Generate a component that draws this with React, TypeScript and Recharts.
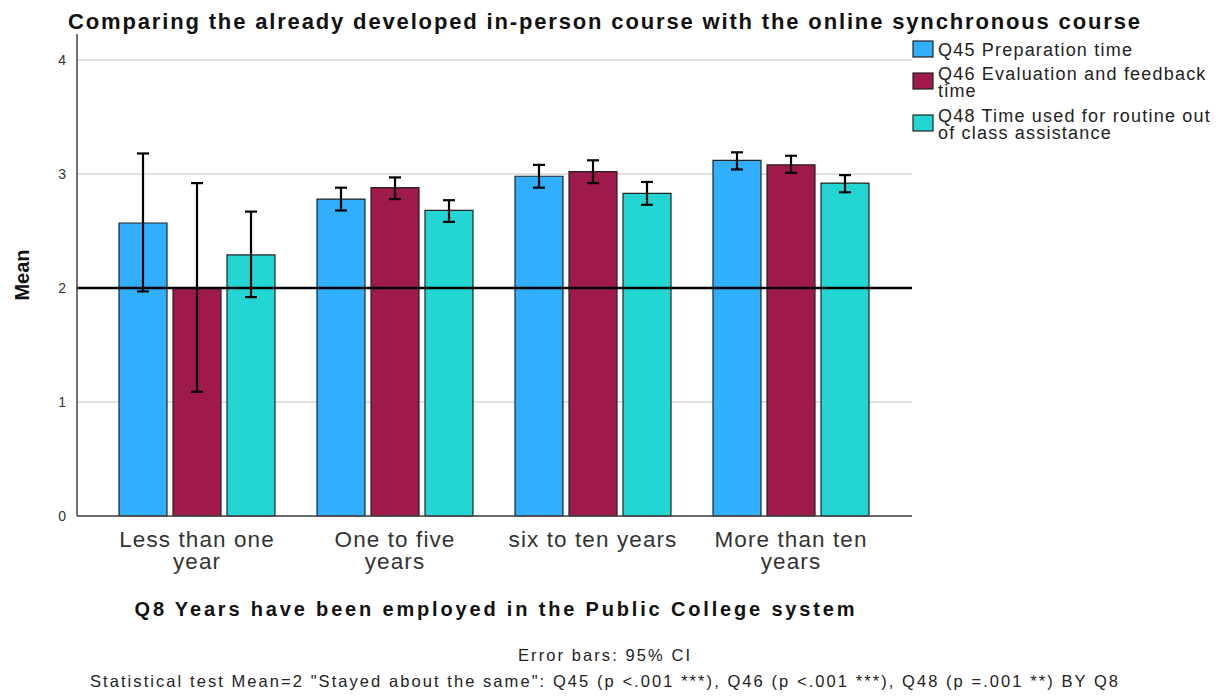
import React from "react";
import { BarChart, Bar, XAxis, YAxis, CartesianGrid, ReferenceLine, ErrorBar } from "recharts";

const categories = ["Less than one year", "One to five years", "six to ten years", "More than ten years"];
const xTickLines = [["Less than one", "year"], ["One to five", "years"], ["six to ten years"], ["More than ten", "years"]];
const yTicks = [0, 1, 2, 3, 4];

const q45Mean = [2.57, 2.78, 2.98, 3.12];
const q45Low = [1.97, 2.68, 2.88, 3.04];
const q45High = [3.18, 2.88, 3.08, 3.19];

const q46Mean = [2.0, 2.88, 3.02, 3.08];
const q46Low = [1.09, 2.78, 2.92, 3.01];
const q46High = [2.92, 2.97, 3.12, 3.16];

const q48Mean = [2.29, 2.68, 2.83, 2.92];
const q48Low = [1.92, 2.58, 2.73, 2.84];
const q48High = [2.67, 2.77, 2.93, 2.99];

const seriesNames = ["Q45 Preparation time", "Q46 Evaluation and feedback time", "Q48 Time used for routine out of class assistance"];
const legendLines = [["Q45 Preparation time"], ["Q46 Evaluation and feedback", "time"], ["Q48 Time used for routine out", "of class assistance"]];
const colors = ["#31aefe", "#a0194c", "#23d5d3"];

const testValue = 2;
const title = "Comparing the already developed in-person course with the online synchronous course";
const xTitle = "Q8 Years have been employed in the Public College system";
const yTitle = "Mean";
const note1 = "Error bars: 95% CI";
const note2 = 'Statistical test Mean=2 "Stayed about the same": Q45 (p <.001 ***), Q46 (p <.001 ***), Q48 (p =.001 **) BY Q8';

const data = categories.map((c, i) => ({
  category: c,
  q45: q45Mean[i],
  q45Err: [q45Mean[i] - q45Low[i], q45High[i] - q45Mean[i]],
  q46: q46Mean[i],
  q46Err: [q46Mean[i] - q46Low[i], q46High[i] - q46Mean[i]],
  q48: q48Mean[i],
  q48Err: [q48Mean[i] - q48Low[i], q48High[i] - q48Mean[i]],
}));

const FONT = "'Liberation Sans', Arial, sans-serif";
const MARGIN = { top: 26, right: 302, bottom: 130, left: 0 };

const XTick = (props: any) => {
  const { x, y, index } = props;
  const lines = xTickLines[index] || [];
  return (
    <g transform={`translate(${x},${y})`}>
      <text textAnchor="middle" fontFamily={FONT} fontSize={22.5} fill="#333" letterSpacing={1.1}>
        {lines.map((l, k) => (
          <tspan key={k} x={0} y={23 + k * 22}>{l}</tspan>
        ))}
      </text>
    </g>
  );
};

const renderGridLine = (p: any) => {
  if (p.y1 <= MARGIN.top + 1) return <g key={p.key} />;
  return <line key={p.key} x1={p.x1} y1={p.y1} x2={p.x2} y2={p.y2} stroke="#c4c4c4" strokeWidth={1.2} fill="none" />;
};

export default function App() {
  const legendY = [[48], [72, 89], [114, 131]];
  const swatchY = [33, 65, 107];
  return (
    <div style={{ position: "relative", width: 1206, height: 688, fontFamily: FONT }}>
      <BarChart width={1206} height={688} data={data} margin={MARGIN} barCategoryGap={21} barGap={6}>
        <CartesianGrid vertical={false} stroke="#c4c4c4" strokeWidth={1.2} horizontalValues={yTicks} horizontal={renderGridLine} />
        <XAxis
          dataKey="category"
          padding={{ left: 21, right: 22 }}
          height={50}
          tickLine={false}
          axisLine={{ stroke: "#444", strokeWidth: 1.5 }}
          tick={<XTick />}
          interval={0}
        />
        <YAxis
          width={69}
          domain={[0, 4.228]}
          ticks={yTicks}
          tickLine={false}
          tickMargin={5}
          axisLine={{ stroke: "#444", strokeWidth: 1.5 }}
          tick={{ fill: "#333", fontSize: 14, fontFamily: FONT }}
        />
        <Bar dataKey="q45" name={seriesNames[0]} fill={colors[0]} stroke="#222" strokeWidth={1.2} isAnimationActive={false}>
          <ErrorBar dataKey="q45Err" width={6} stroke="#000" strokeWidth={2.2} isAnimationActive={false} />
        </Bar>
        <Bar dataKey="q46" name={seriesNames[1]} fill={colors[1]} stroke="#222" strokeWidth={1.2} isAnimationActive={false}>
          <ErrorBar dataKey="q46Err" width={6} stroke="#000" strokeWidth={2.2} isAnimationActive={false} />
        </Bar>
        <Bar dataKey="q48" name={seriesNames[2]} fill={colors[2]} stroke="#222" strokeWidth={1.2} isAnimationActive={false}>
          <ErrorBar dataKey="q48Err" width={6} stroke="#000" strokeWidth={2.2} isAnimationActive={false} />
        </Bar>
        <ReferenceLine y={testValue} stroke="#000" strokeWidth={2.5} />
      </BarChart>
      <svg width={1206} height={688} style={{ position: "absolute", left: 0, top: 0, pointerEvents: "none" }}>
        <text x={596} y={21} textAnchor="middle" fontFamily={FONT} fontWeight="bold" fontSize={22} fill="#111" textLength={1072} lengthAdjust="spacing">{title}</text>
        <text transform="translate(21,267) rotate(-90)" textAnchor="middle" fontFamily={FONT} fontWeight="bold" fontSize={20} fill="#111">{yTitle}</text>
        <text x={486.5} y={608} textAnchor="middle" fontFamily={FONT} fontWeight="bold" fontSize={20} fill="#111" textLength={720} lengthAdjust="spacing">{xTitle}</text>
        <text x={596} y={653} textAnchor="middle" fontFamily={FONT} fontSize={16.5} fill="#222" textLength={172} lengthAdjust="spacing">{note1}</text>
        <text x={596} y={679} textAnchor="middle" fontFamily={FONT} fontSize={16.5} fill="#222" textLength={1028} lengthAdjust="spacing">{note2}</text>
        {legendLines.map((lines, i) => (
          <g key={i}>
            <rect x={905} y={swatchY[i]} width={20} height={16} fill={colors[i]} stroke="#222" strokeWidth={1.2} />
            <text fontFamily={FONT} fontSize={18} fill="#222" letterSpacing={1.2}>
              {lines.map((l, k) => (
                <tspan key={k} x={930} y={legendY[i][k]}>{l}</tspan>
              ))}
            </text>
          </g>
        ))}
      </svg>
    </div>
  );
}
